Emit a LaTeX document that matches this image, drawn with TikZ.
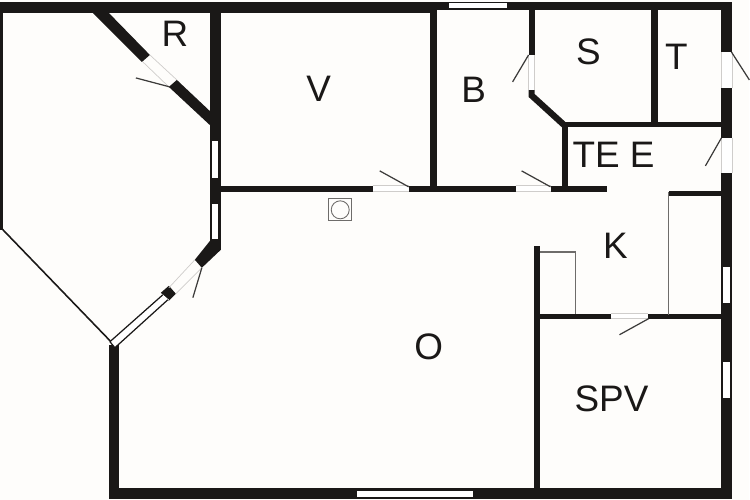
\documentclass[tikz,border=0pt]{standalone}
\usepackage{xcolor}
\usepackage{fontspec}
\setmainfont{Liberation Sans}
\definecolor{paperwhite}{HTML}{FEFDFB}
\definecolor{wallblack}{HTML}{1A1817}
\definecolor{thingray}{HTML}{6E6C6A}
\definecolor{gaplight}{HTML}{CFCDCB}
\tikzset{
  wall/.style={fill=wallblack, draw=none},
  pane/.style={fill=white, draw=none},
  gapline/.style={gaplight, line width=0.4pt},
  leaf/.style={wallblack!85, line width=0.7pt},
  fitting/.style={thingray, line width=1pt},
  roomlabel/.style={text=wallblack, inner sep=0pt, font=\fontsize{21}{21}\selectfont}
}
\begin{document}
\begin{tikzpicture}[x=0.02cm, y=-0.02cm]
  \fill[paperwhite] (0,0) rectangle (750,500);

  % Straight walls
  \foreach \xa/\ya/\xb/\yb in {0/2/437/13, 437/2/733/10.5, 210/12/221/250, 722/2/733/499, 109/345/119/499, 109/488/733/499,
      221/186/373/192, 409/186/516/192, 551/186/607/192, 430/10/437/187, 529/10/535/55, 652/10/659/124,
      562/124/568/187, 563/122/722/127, 670/191/722/196, 534/246/540/488, 540/314/611/319, 649/314/722/319} {
    \fill[wall] (\xa,\ya) rectangle (\xb,\yb);
  }

  % Slanted walls
  \fill[wall] (92,12) -- (108,12) -- (150,55) -- (142,62) -- cycle;
  \fill[wall] (177,80) -- (212,113) -- (212,127) -- (169,87) -- cycle;
  \fill[wall] (211,240) -- (221,240) -- (221,250) -- (202,268) -- (195,260) -- cycle;
  \fill[wall] (161,293) -- (169,286) -- (176,294) -- (169,301) -- cycle;
  \fill[wall] (529,90) -- (535,90) -- (535,94) -- (568,124) -- (563,128) -- (529,97) -- cycle;
  \fill[wall] (0.5,12) rectangle (3,230);
  \draw[wallblack, line width=0.9pt] (2,229) -- (112,343);

  % Windows
  \foreach \xa/\ya/\xb/\yb in {449/3/507/8, 357/491/473/497, 212.5/141/218.5/178, 212.5/204/218.5/239,
      724/267/731/303, 724/362/731/398} {
    \fill[pane] (\xa,\ya) rectangle (\xb,\yb);
  }
  \fill[pane] (110,342) -- (162,294) -- (169,300) -- (115,348) -- cycle;
  \draw[wallblack, line width=0.7pt] (110,342) -- (163,295) (115,348) -- (168,300) (110,342) -- (115,348);

  % Door openings
  \foreach \xa/\ya/\xb/\yb in {373/186/409/192, 516/186/551/192, 611/314/649/319} {
    \fill[pane] (\xa,\ya) rectangle (\xb,\yb);
    \draw[gapline] (\xa,\ya) -- (\xb,\ya) (\xa,\yb) -- (\xb,\yb);
  }
  \foreach \xa/\ya/\xb/\yb in {529/55/535/90, 722/52/733/88, 722/138/733/173} {
    \fill[pane] (\xa,\ya) rectangle (\xb,\yb);
    \draw[gapline] (\xa,\ya) -- (\xa,\yb) (\xb,\ya) -- (\xb,\yb);
  }
  \draw[gapline] (143,62) -- (169,87) (150,55) -- (177,80);
  \draw[gapline] (176,294) -- (202,268) (169,288) -- (195,260);

  % Door leaves
  \foreach \xa/\ya/\xb/\yb in {170/87/136/78, 202/268/193/298, 409/187/380/171, 551/187/522/171, 529/55/513/82,
      732/52/750/80, 722/138/706/166, 649/319/620/335} {
    \draw[leaf] (\xa,\ya) -- (\xb,\yb);
  }

  % Kitchen fittings
  \draw[fitting] (540,252) -- (576,252) -- (576,314);
  \draw[fitting] (669,192) -- (669,315);

  % Stove
  \draw[thingray, line width=0.5pt] (329,199) rectangle (352,221);
  \draw[thingray, line width=0.5pt] (340.5,210) circle (9);

  % Room names
  \foreach \name/\x/\y/\txt in {roomr/175/34/R, roomv/319/89/V, roomb/474/90/B, rooms/589/52/S, roomt/677/57/T,
      roomtee/614/155/TE E, roomk/616/246/K, roomo/429/347/O, roomspv/612/399/SPV} {
    \node[roomlabel] (\name) at (\x,\y) {\txt};
  }
\end{tikzpicture}
\end{document}
